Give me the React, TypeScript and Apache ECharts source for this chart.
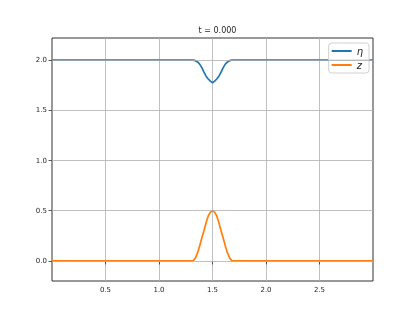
import React, { useEffect, useRef } from "react";
import * as echarts from "echarts";

const xs = [0, 1.3, 1.32, 1.34, 1.36, 1.38, 1.4, 1.42, 1.44, 1.46, 1.48, 1.5, 1.52, 1.54, 1.56, 1.58, 1.6, 1.62, 1.64, 1.66, 1.68, 1.7, 3.0];
const etaVals = [2.0, 2.0, 1.999, 1.994, 1.982, 1.96, 1.925, 1.88, 1.84, 1.812, 1.79, 1.775, 1.79, 1.812, 1.84, 1.88, 1.925, 1.96, 1.982, 1.994, 1.999, 2.0, 2.0];
const zVals = [0, 0, 0.003, 0.03, 0.08, 0.149, 0.229, 0.3, 0.38, 0.447, 0.486, 0.5, 0.486, 0.447, 0.38, 0.3, 0.229, 0.149, 0.08, 0.03, 0.003, 0, 0];
const xTicks = [0.5, 1.0, 1.5, 2.0, 2.5];
const yTicks = [0, 0.5, 1.0, 1.5, 2.0];
const titleText = "t = 0.000";
const seriesNames = ["η", "z"];

const FONT = "DejaVu Sans";
const TXT = "#262626";

export default function App() {
  const ref = useRef<HTMLDivElement>(null);
  useEffect(() => {
    if (!ref.current) return;
    const chart = echarts.init(ref.current, undefined, { renderer: "svg" });
    chart.setOption({
      animation: false,
      title: {
        text: titleText,
        left: 212.5,
        textAlign: "center",
        top: 21,
        textStyle: { fontFamily: FONT, fontSize: 8, fontWeight: "normal", color: TXT },
      },
      grid: {
        left: 52,
        right: 42,
        top: 38,
        bottom: 35,
        show: true,
        borderColor: "#333",
        borderWidth: 1,
        containLabel: false,
      },
      legend: {
        data: seriesNames,
        orient: "vertical",
        right: 46,
        top: 43,
        icon: "rect",
        itemWidth: 20,
        itemHeight: 2,
        itemGap: 4,
        padding: [3, 6, 3, 3],
        backgroundColor: "rgba(255,255,255,0.8)",
        borderColor: "#d0d0d0",
        borderWidth: 1,
        borderRadius: 3,
        textStyle: { fontFamily: FONT, fontSize: 10, fontStyle: "italic", color: TXT },
      },
      xAxis: {
        type: "value",
        min: 0,
        max: 3,
        interval: 0.5,
        axisLine: { show: false },
        axisTick: { show: true, inside: false, length: 3.5, customValues: xTicks, lineStyle: { color: "#333", width: 0.8 } },
        axisLabel: {
          customValues: xTicks,
          margin: 5,
          fontFamily: FONT,
          fontSize: 7,
          color: TXT,
          formatter: (v: number) => v.toFixed(1),
        },
        splitLine: { show: true, lineStyle: { color: "#b0b0b0", width: 0.8 } },
      },
      yAxis: {
        type: "value",
        min: -0.2,
        max: 2.22,
        axisLine: { show: false },
        axisTick: { show: true, inside: false, length: 3.5, customValues: yTicks, lineStyle: { color: "#333", width: 0.8 } },
        axisLabel: {
          customValues: yTicks,
          margin: 5,
          fontFamily: FONT,
          fontSize: 7,
          color: TXT,
          formatter: (v: number) => v.toFixed(1),
        },
        splitLine: { show: false },
      },
      series: [
        {
          name: "grid",
          type: "line",
          data: [],
          z: 1,
          silent: true,
          markLine: {
            silent: true,
            symbol: "none",
            label: { show: false },
            lineStyle: { color: "#b0b0b0", width: 0.8, type: "solid" },
            data: yTicks.map((v) => ({ yAxis: v })),
          },
        },
        {
          name: seriesNames[0],
          type: "line",
          data: xs.map((x, i) => [x, etaVals[i]]),
          showSymbol: false,
          smooth: false,
          z: 3,
          lineStyle: { color: "#1f77b4", width: 1.7 },
          itemStyle: { color: "#1f77b4" },
        },
        {
          name: seriesNames[1],
          type: "line",
          data: xs.map((x, i) => [x, zVals[i]]),
          showSymbol: false,
          smooth: false,
          z: 3,
          lineStyle: { color: "#ff7f0e", width: 1.7 },
          itemStyle: { color: "#ff7f0e" },
        },
      ],
    });
    return () => chart.dispose();
  }, []);
  return <div ref={ref} style={{ position: "fixed", left: 0, top: 0, width: 415, height: 316 }} />;
}
